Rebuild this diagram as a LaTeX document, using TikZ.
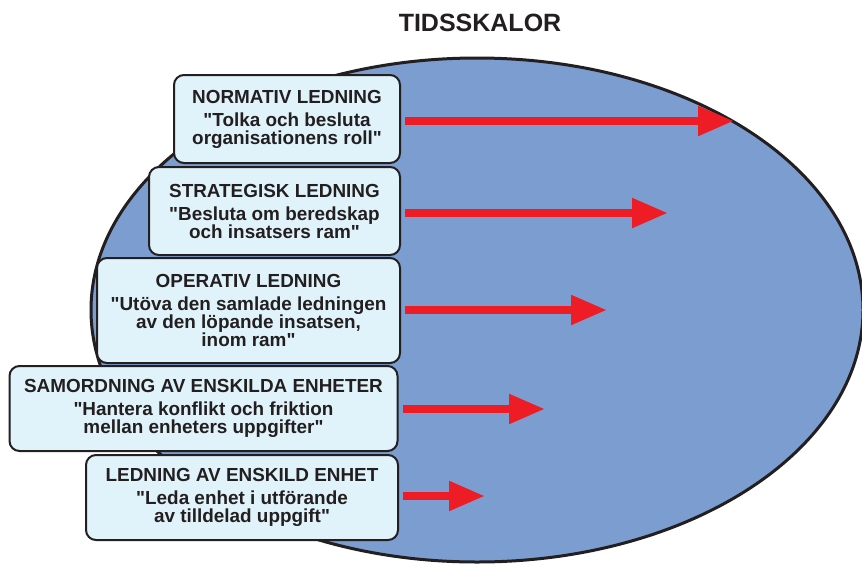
\documentclass[tikz,border=0pt]{standalone}
\usepackage{fontspec}
\setmainfont{Liberation Sans}
\usetikzlibrary{arrows.meta}
\definecolor{inkdark}{HTML}{231F20}
\definecolor{fieldblue}{HTML}{7B9DD0}
\definecolor{boxfill}{HTML}{E0F3FB}
\definecolor{arrowred}{HTML}{EE1C25}
\begin{document}
\begin{tikzpicture}[x=1pt,y=-1pt,
  levelbox/.style={draw=inkdark, line width=2pt, fill=boxfill, rounded corners=10pt,
    inner sep=0pt, align=center, text=inkdark,
    font=\bfseries\fontsize{18.9}{18}\selectfont},
  timearrow/.style={draw=arrowred, line width=8pt, shorten <=4pt,
    -{Triangle[length=36pt,width=28pt]}}]
  \useasboundingbox (0,0) rectangle (862,563);
  % time-scale field
  \node[font=\bfseries\fontsize{25}{25}\selectfont, text=inkdark, anchor=base] (title) at (480,31) {TIDSSKALOR};
  \path[fill=fieldblue, draw=inkdark, line width=3pt] (477,310) ellipse [x radius=386, y radius=252];
  % command levels
  \node[levelbox, minimum width=226pt, minimum height=88pt] (n1) at (287,119)
    {NORMATIV LEDNING\\[5pt]\textquotedbl Tolka och besluta\\organisationens roll\textquotedbl};
  \node[levelbox, minimum width=251pt, minimum height=88pt] (n2) at (274.5,211)
    {STRATEGISK LEDNING\\[5pt]\textquotedbl Besluta om beredskap\\och insatsers ram\textquotedbl};
  \node[levelbox, minimum width=303pt, minimum height=105pt] (n3) at (248.5,310.5)
    {OPERATIV LEDNING\\[5pt]\textquotedbl Utöva den samlade ledningen\\av den löpande insatsen,\\inom ram\textquotedbl};
  \node[levelbox, minimum width=388pt, minimum height=85pt] (n4) at (203.5,408.5)
    {SAMORDNING AV ENSKILDA ENHETER\\[5pt]\textquotedbl Hantera konflikt och friktion\\mellan enheters uppgifter\textquotedbl};
  \node[levelbox, minimum width=312pt, minimum height=85pt] (n5) at (242,497.5)
    {LEDNING AV ENSKILD ENHET\\[5pt]\textquotedbl Leda enhet i utförande\\av tilldelad uppgift\textquotedbl};
  % time horizons
  \coordinate (t1) at (734,121);
  \coordinate (t2) at (668,213);
  \coordinate (t3) at (607,310);
  \coordinate (t4) at (545,409);
  \coordinate (t5) at (485,496);
  \draw[timearrow] (n1.east |- t1) -- (t1);
  \draw[timearrow] (n2.east |- t2) -- (t2);
  \draw[timearrow] (n3.east |- t3) -- (t3);
  \draw[timearrow] (n4.east |- t4) -- (t4);
  \draw[timearrow] (n5.east |- t5) -- (t5);
\end{tikzpicture}
\end{document}
